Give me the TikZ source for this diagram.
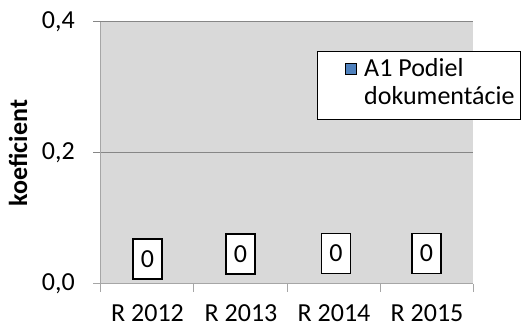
\documentclass[tikz,border=0pt]{standalone}
\usepackage{fontspec}
\setmainfont{Carlito}
\definecolor{plotbg}{HTML}{D9D9D9}
\definecolor{gridc}{HTML}{868686}
\definecolor{axisc}{HTML}{A6A6A6}
\definecolor{serblue}{HTML}{4F81BD}
\begin{document}
\begin{tikzpicture}[x=1pt,y=-1pt,
  lbl/.style={font=\fontsize{26}{31}\selectfont, inner sep=0pt},
  datalbl/.style={draw=black, line width=1.3pt, fill=white, minimum width=29pt, minimum height=40pt, inner sep=0pt, font=\fontsize{26}{31}\selectfont},
  gridl/.style={draw=gridc, line width=1pt},
  axisl/.style={draw=axisc, line width=1pt}]
\useasboundingbox (0,0) rectangle (524,328);
% plot area
\fill[plotbg] (100,22) rectangle (473,284);
\draw[gridl] (93,22) -- (473,22);
\draw[gridl] (93,153) -- (473,153);
\draw[axisl] (93,284) -- (473,284);
\draw[axisl] (100,22) -- (100,284);
\foreach \x in {100,193,287,380,473} \draw[axisl] (\x,284) -- (\x,292);
% y labels
\node[lbl, anchor=east] (y0) at (75,284) {0,0};
\node[lbl, anchor=east] (y2) at (75,153) {0,2};
\node[lbl, anchor=east] (y4) at (75,22) {0,4};
\node[lbl, font=\fontsize{26}{31}\selectfont\bfseries, rotate=90] (ytitle) at (18,153) {koeficient};
% x labels
\node[lbl] (x1) at (147.5,313) {R 2012};
\node[lbl] (x2) at (241,313) {R 2013};
\node[lbl] (x3) at (334,313) {R 2014};
\node[lbl] (x4) at (427,313) {R 2015};
% data labels
\node[datalbl] (d1) at (147.5,259) {0};
\node[datalbl] (d2) at (240.5,254) {0};
\node[datalbl] (d3) at (336,253.5) {0};
\node[datalbl] (d4) at (426.5,253.5) {0};
% legend
\draw[black, line width=1pt, fill=white] (317,52) rectangle (520,120);
\draw[black, line width=0.8pt, fill=serblue] (345,63.5) rectangle (356,74.5);
\node[lbl, anchor=base west] (leg1) at (364,77) {A1 Podiel};
\node[lbl, anchor=base west] (leg2) at (364,105) {dokumentácie};
\end{tikzpicture}
\end{document}
